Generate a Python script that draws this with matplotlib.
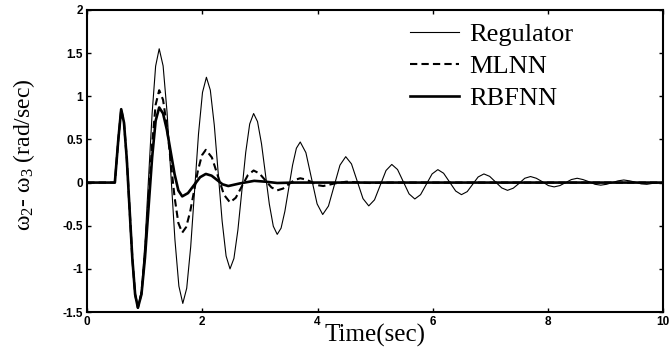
import matplotlib
matplotlib.use("Agg")
import matplotlib.pyplot as plt

# values (time in s, speed difference in rad/sec)
t_reg = [0.0, 0.48, 0.54, 0.59, 0.638, 0.687, 0.735, 0.783, 0.832, 0.88,
         0.942, 1.003, 1.065, 1.127, 1.188, 1.25,
         1.318, 1.387, 1.455, 1.523, 1.592, 1.66,
         1.728, 1.797, 1.865, 1.933, 2.002, 2.07,
         2.138, 2.207, 2.275, 2.343, 2.412, 2.48,
         2.548, 2.617, 2.685, 2.753, 2.822, 2.89,
         2.958, 3.027, 3.095, 3.163, 3.232, 3.30,
         3.367, 3.433, 3.50, 3.567, 3.633, 3.70,
         3.798, 3.895, 3.993, 4.09, 4.19, 4.29, 4.39, 4.49,
         4.59, 4.69, 4.79, 4.89, 4.99, 5.09, 5.19, 5.29,
         5.39, 5.49, 5.59, 5.69, 5.79, 5.89, 5.99, 6.09,
         6.19, 6.295, 6.40, 6.50, 6.60, 6.695, 6.79, 6.89,
         6.99, 7.095, 7.20, 7.30, 7.40, 7.50, 7.60, 7.70,
         7.80, 7.905, 8.01, 8.11, 8.21, 8.31, 8.41, 8.51,
         8.61, 8.715, 8.82, 8.92, 9.02, 9.12, 9.22, 9.32,
         9.42, 9.52, 9.62, 9.72, 9.86, 10.0]
y_reg = [0.0, 0.0, 0.5, 0.85, 0.696, 0.275, -0.30, -0.875, -1.296, -1.45,
         -1.249, -0.70, 0.05, 0.80, 1.349, 1.55,
         1.352, 0.81, 0.075, -0.66, -1.20, -1.40,
         -1.224, -0.745, -0.09, 0.565, 1.044, 1.22,
         1.071, 0.665, 0.11, -0.445, -0.851, -1.00,
         -0.879, -0.55, -0.10, 0.35, 0.679, 0.80,
         0.706, 0.45, 0.10, -0.25, -0.506, -0.60,
         -0.528, -0.333, -0.065, 0.203, 0.398, 0.47,
         0.347, 0.05, -0.247, -0.37, -0.272, -0.035, 0.202, 0.30,
         0.216, 0.015, -0.186, -0.27, -0.20, -0.03, 0.14, 0.21,
         0.151, 0.01, -0.131, -0.19, -0.14, -0.02, 0.10, 0.15,
         0.108, 0.005, -0.098, -0.14, -0.105, -0.02, 0.065, 0.10,
         0.072, 0.005, -0.062, -0.09, -0.065, -0.01, 0.05, 0.07,
         0.05, 0.01, -0.035, -0.05, -0.035, 0.0, 0.035, 0.05,
         0.035, 0.01, -0.02, -0.03, -0.02, 0.0, 0.02, 0.03,
         0.02, 0.005, -0.015, -0.02, -0.005, 0.0]

t_mlnn = [0.0, 0.48, 0.54, 0.59, 0.638, 0.687, 0.735, 0.783, 0.832, 0.88,
          0.942, 1.003, 1.065, 1.127, 1.188, 1.25,
          1.317, 1.383, 1.45, 1.517, 1.583, 1.65,
          1.718, 1.787, 1.855, 1.923, 1.992, 2.06,
          2.165, 2.27, 2.375, 2.48, 2.58, 2.685, 2.79, 2.89,
          2.99, 3.095, 3.20, 3.30, 3.40, 3.50, 3.60, 3.70,
          3.80, 3.90, 4.00, 4.10, 4.30, 4.50, 4.90, 5.30, 10.0]
y_mlnn = [0.0, 0.0, 0.5, 0.85, 0.696, 0.275, -0.30, -0.875, -1.296, -1.45,
          -1.281, -0.82, -0.19, 0.44, 0.901, 1.07,
          0.959, 0.658, 0.245, -0.168, -0.469, -0.58,
          -0.516, -0.34, -0.10, 0.14, 0.316, 0.38,
          0.291, 0.075, -0.141, -0.23, -0.176, -0.045, 0.086, 0.14,
          0.106, 0.025, -0.056, -0.09, -0.07, -0.02, 0.03, 0.05,
          0.035, 0.005, -0.03, -0.04, -0.01, 0.01, -0.005, 0.0, 0.0]

t_rbf = [0.0, 0.48, 0.54, 0.59, 0.638, 0.687, 0.735, 0.783, 0.832, 0.88,
         0.942, 1.003, 1.065, 1.127, 1.188, 1.25,
         1.317, 1.383, 1.45, 1.517, 1.583, 1.65,
         1.75, 1.855, 1.96, 2.06, 2.16, 2.255, 2.35, 2.45,
         2.65, 2.90, 3.10, 3.30, 3.60, 10.0]
y_rbf = [0.0, 0.0, 0.5, 0.85, 0.696, 0.275, -0.30, -0.875, -1.296, -1.45,
         -1.295, -0.87, -0.29, 0.29, 0.715, 0.87,
         0.801, 0.613, 0.355, 0.098, -0.091, -0.16,
         -0.122, -0.03, 0.062, 0.10, 0.08, 0.03, -0.02, -0.04,
         -0.01, 0.02, 0.01, -0.005, 0.0, 0.0]

xticks = [0, 2, 4, 6, 8, 10]
yticks = [-1.5, -1, -0.5, 0, 0.5, 1, 1.5, 2]
ytick_labels = ['-1.5', '-1', '-0.5', '0', '0.5', '1', '1.5', '2']

plt.rcParams['axes.unicode_minus'] = False
plt.rcParams['mathtext.fontset'] = 'custom'
plt.rcParams['mathtext.rm'] = 'Liberation Serif'
plt.rcParams['mathtext.it'] = 'Liberation Serif:italic'

fig = plt.figure(figsize=(6.71, 3.55), dpi=100)
ax = fig.add_axes([0.130, 0.121, 0.858, 0.851])

ax.plot(t_reg, y_reg, color='black', lw=0.8, label='Regulator')
ax.plot(t_mlnn, y_mlnn, color='black', lw=1.5, ls=(0, (3.5, 2)), label='MLNN')
ax.plot(t_rbf, y_rbf, color='black', lw=1.9, label='RBFNN')

ax.set_xlim(0, 10)
ax.set_ylim(-1.5, 2)
ax.set_xticks(xticks)
ax.set_yticks(yticks)
ax.set_yticklabels(ytick_labels)
ax.tick_params(direction='in', length=3, width=1, top=True, right=True,
               labelsize=8.5, pad=3)
for lab in ax.get_xticklabels() + ax.get_yticklabels():
    lab.set_fontfamily('Liberation Sans')
    lab.set_fontweight('bold')
for sp in ax.spines.values():
    sp.set_linewidth(1.5)

ax.set_xlabel('Time(sec)', fontfamily='Liberation Serif', fontsize=18, labelpad=-3)
ax.set_ylabel(r'$\mathrm{\omega_2}$- $\mathrm{\omega_3}$ (rad/sec)',
              fontfamily='Liberation Serif', fontsize=17)
ax.yaxis.set_label_coords(-0.087, 0.52)

leg = ax.legend(loc='upper left', bbox_to_anchor=(410 / 671, 1 - 23 / 355),
                bbox_transform=fig.transFigure, frameon=False, borderpad=0,
                borderaxespad=0, prop={'family': 'Liberation Serif', 'size': 19},
                handlelength=1.85, handletextpad=0.4, labelspacing=0.31)

fig.savefig('out.png', dpi=100)
